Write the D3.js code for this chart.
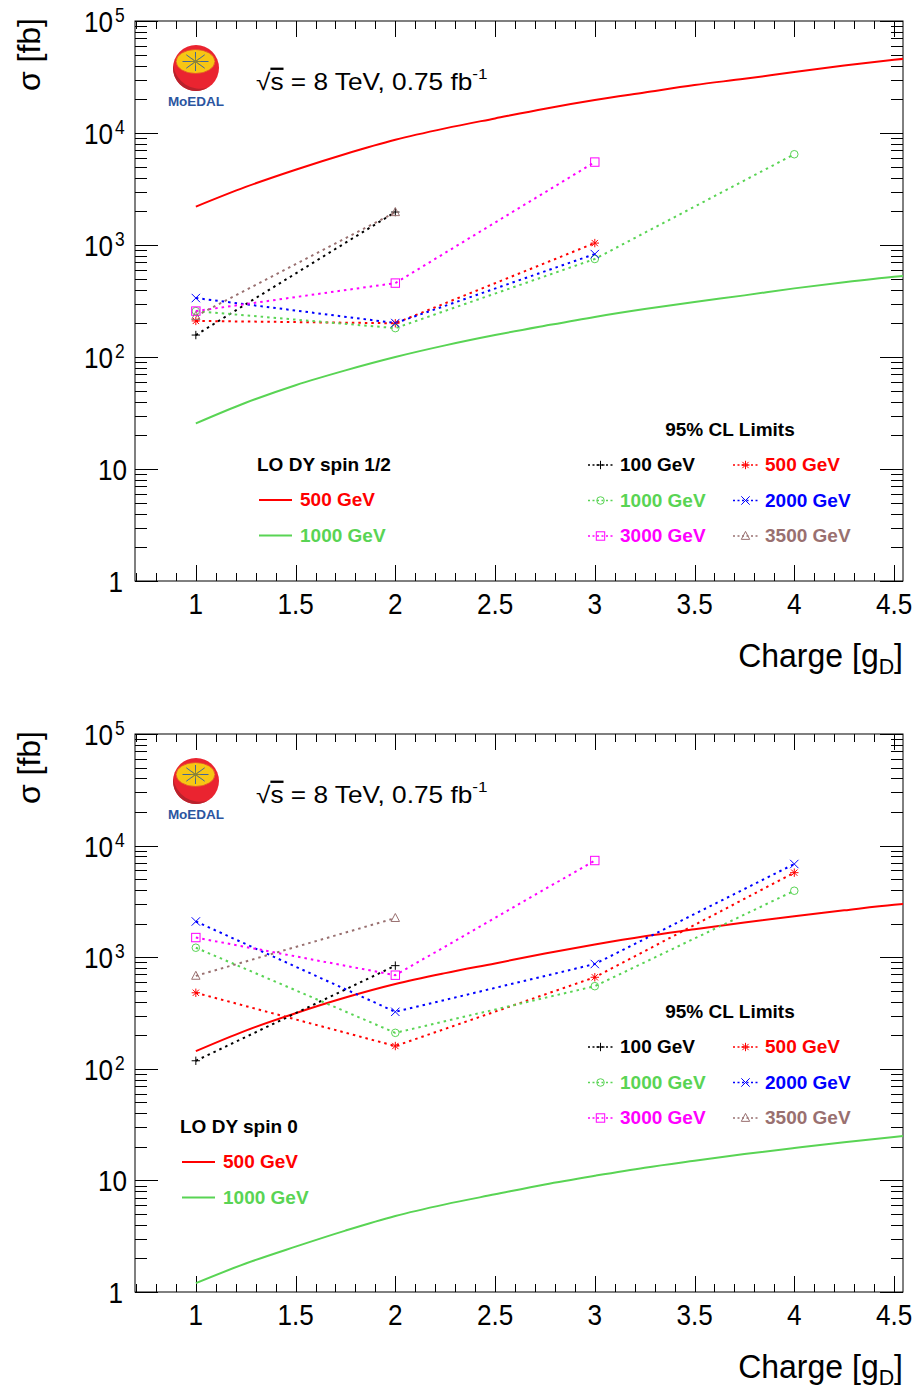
<!DOCTYPE html>
<html><head><meta charset="utf-8">
<script src="https://cdn.jsdelivr.net/npm/d3@7"></script>
<style>body{margin:0;background:#fff}</style>
</head><body><svg id="c" width="922" height="1396" xmlns="http://www.w3.org/2000/svg"></svg>
<script>
// ---------------- DATA ----------------
const charges = [1, 2, 3, 4];
const theoryCharge = [1, 1.25, 1.5, 1.75, 2, 2.25, 2.5, 2.75, 3, 3.25, 3.5, 3.75, 4, 4.25, 4.5, 4.55];
// LO Drell-Yan cross sections [fb]
const dySpinHalf500  = [2200, 3300, 4700, 6500, 8700, 11000, 13500, 16500, 19700, 23000, 26800, 30500, 35000, 40000, 45000, 46000];
const dySpinHalf1000 = [25.5, 39, 56, 76, 100, 127, 157, 190, 228, 268, 310, 355, 410, 465, 520, 530];
const dySpinZero500  = [144, 220, 315, 435, 575, 720, 880, 1080, 1300, 1540, 1780, 2050, 2330, 2630, 2950, 3000];
const dySpinZero1000 = [1.2, 1.8, 2.55, 3.55, 4.8, 6.1, 7.5, 9.2, 11, 13, 15, 17.2, 19.5, 22, 24.5, 25];
// 95% CL limits [fb], indexed by charge 1..4 (null = not available)
const massLabels = ["100 GeV", "500 GeV", "1000 GeV", "2000 GeV", "3000 GeV", "3500 GeV"];
const limitsSpinHalf = [
  [157, 1970, null, null],
  [210, 200, 1040, null],
  [257, 181, 750, 6460],
  [336, 201, 830, null],
  [257, 457, 5500, null],
  [232, 1960, null, null]
];
const limitsSpinZero = [
  [118, 840, null, null],
  [480, 160, 661, 5720],
  [1216, 210, 550, 3940],
  [2090, 324, 869, 6840],
  [1500, 690, 7350, null],
  [680, 2240, null, null]
];
const xTickLabels = ["1", "1.5", "2", "2.5", "3", "3.5", "4", "4.5"];
const yDecades = [0, 1, 2, 3, 4, 5];
const theoryLabels = ["500 GeV", "1000 GeV"];

// ---------------- STYLE ----------------
const limitColors = ["#000000", "#ff0000", "#59d454", "#0000ff", "#ff00ff", "#997070"];
const limitMarkers = ["plus", "star", "circle", "cross", "square", "triangle"];
const theoryColors = ["#ff0000", "#59d454"];
const FONT = "'Liberation Sans', Arial, Helvetica, sans-serif";

const svg = d3.select("#c");

function label(g, x, y, anchor, sx, size, weight, fill) {
  return g.append("text")
    .attr("transform", `translate(${x},${y}) scale(${sx},1)`)
    .attr("text-anchor", anchor)
    .attr("font-family", FONT)
    .attr("font-size", size)
    .attr("font-weight", weight || "normal")
    .attr("fill", fill || "#000");
}

function marker(g, type, cx, cy, color) {
  const s = 4.2;
  const m = g.append("g").attr("transform", `translate(${cx},${cy})`)
    .attr("stroke", color).attr("stroke-width", 1).attr("fill", "none");
  const ln = (x1, y1, x2, y2) => m.append("line").attr("x1", x1).attr("y1", y1).attr("x2", x2).attr("y2", y2);
  if (type === "plus") { ln(-s, 0, s, 0); ln(0, -s, 0, s); }
  else if (type === "star") { ln(-s, 0, s, 0); ln(0, -s, 0, s); ln(-s*0.75, -s*0.75, s*0.75, s*0.75); ln(-s*0.75, s*0.75, s*0.75, -s*0.75); }
  else if (type === "circle") { m.append("circle").attr("r", s * 0.9); }
  else if (type === "cross") { ln(-s, -s, s, s); ln(-s, s, s, -s); }
  else if (type === "square") { m.append("rect").attr("x", -s).attr("y", -s).attr("width", 2*s).attr("height", 2*s); }
  else if (type === "triangle") { m.append("path").attr("d", `M0,${-s*1.1}L${s},${s*0.8}L${-s},${s*0.8}Z`); }
}

function drawLogo(g, cx, cy) {
  const lg = g.append("g").attr("transform", `translate(${cx},${cy})`);
  lg.append("circle").attr("r", 23).attr("fill", "#ea2430");
  lg.append("path").attr("d", "M-22.8,-3 A23,23 0 0,0 12,19.6 A27,27 0 0,1 -22.8,-3Z").attr("fill", "#b8222c");
  lg.append("ellipse").attr("cx", -0.5).attr("cy", -6.5).attr("rx", 19.5).attr("ry", 12).attr("fill", "#f7c614").attr("stroke", "#e04a2a").attr("stroke-width", 0.8);
  const sp = lg.append("g").attr("transform", "translate(-0.5,-6.5)").attr("stroke", "#2d5aa8").attr("stroke-width", 0.9);
  for (let k = 0; k < 8; k++) {
    const a = k * Math.PI / 4;
    const rx = 13 * Math.cos(a), ry = 9.5 * Math.sin(a);
    sp.append("line").attr("x1", 0).attr("y1", 0).attr("x2", rx).attr("y2", ry);
  }
  lg.append("g").attr("transform", "translate(-0.5,-6.5)").attr("stroke", "#9a8a20").attr("stroke-width", 0.8)
    .selectAll("line").data([0, 1, 2, 3]).join("line")
    .attr("x1", d => -5 * Math.cos(d * Math.PI / 4)).attr("y1", d => -4 * Math.sin(d * Math.PI / 4))
    .attr("x2", d => 5 * Math.cos(d * Math.PI / 4)).attr("y2", d => 4 * Math.sin(d * Math.PI / 4));
  label(lg, 0, 38, "middle", 1, 13.5, "bold", "#2b55a0").text("MoEDAL");
}

function drawPanel(p) {
  const g = svg.append("g");
  const x = d3.scaleLinear().domain([0.695, 4.545]).range([p.x0, p.x1]);
  const y = d3.scaleLog().domain([1, 1e5]).range([p.y1, p.y0]);
  const clipId = "clip" + p.id;
  svg.append("clipPath").attr("id", clipId).append("rect")
    .attr("x", p.x0).attr("y", p.y0).attr("width", p.x1 - p.x0).attr("height", p.y1 - p.y0);

  // frame
  g.append("rect").attr("x", p.x0).attr("y", p.y0).attr("width", p.x1 - p.x0).attr("height", p.y1 - p.y0)
    .attr("fill", "none").attr("stroke", "#000").attr("stroke-width", 1);

  // x ticks (bottom & top)
  const xMinor = d3.range(7, 46).map(v => v / 10);
  const ticksG = g.append("g").attr("stroke", "#000").attr("stroke-width", 1);
  xMinor.forEach(v => {
    const isMajor = Math.abs(v * 2 - Math.round(v * 2)) < 1e-6;
    const len = isMajor ? 16 : 8;
    const xx = Math.round(x(v)) + 0.5;
    ticksG.append("line").attr("x1", xx).attr("x2", xx).attr("y1", p.y1).attr("y2", p.y1 - len);
    ticksG.append("line").attr("x1", xx).attr("x2", xx).attr("y1", p.y0).attr("y2", p.y0 + len);
  });
  // y ticks (left & right)
  yDecades.forEach(d => {
    for (let k = 1; k <= 9; k++) {
      const v = k * Math.pow(10, d);
      if (v > 1e5) break;
      const len = k === 1 ? 23 : 12;
      const yy = Math.round(y(v)) + 0.5;
      ticksG.append("line").attr("x1", p.x0).attr("x2", p.x0 + len).attr("y1", yy).attr("y2", yy);
      ticksG.append("line").attr("x1", p.x1).attr("x2", p.x1 - len).attr("y1", yy).attr("y2", yy);
    }
  });

  // x tick labels
  xTickLabels.forEach(t => {
    label(g, x(+t), p.y1 + 33, "middle", 0.87, 30).text(t);
  });
  // y tick labels
  yDecades.forEach(d => {
    const yy = y(Math.pow(10, d)) + 11;
    if (d === 0) label(g, 123, yy, "end", 0.87, 30).text("1");
    else if (d === 1) label(g, 127, yy, "end", 0.87, 30).text("10");
    else {
      label(g, 113, yy, "end", 0.87, 30).text("10");
      label(g, 115, yy - 10, "start", 0.87, 20).text(String(d));
    }
  });

  // axis titles
  const xt = label(g, p.x1, p.y1 + 86, "end", 0.97, 33);
  xt.append("tspan").text("Charge [g");
  xt.append("tspan").attr("font-size", 22).attr("dy", 7).text("D");
  xt.append("tspan").attr("dy", -7).text("]");
  g.append("text").attr("transform", `translate(40,${p.y0 - 3}) rotate(-90) scale(1.0,1)`)
    .attr("text-anchor", "end").attr("font-family", FONT).attr("font-size", 32).text("σ [fb]");

  // theory curves
  const lineGen = d3.line().x(d => x(d[0])).y(d => y(d[1]));
  const smoothGen = d3.line().curve(d3.curveMonotoneX).x(d => x(d[0])).y(d => y(d[1]));
  p.theory.forEach((vals, i) => {
    g.append("path").attr("clip-path", `url(#${clipId})`)
      .attr("d", smoothGen(theoryCharge.map((c, j) => [c, vals[j]])))
      .attr("fill", "none").attr("stroke", theoryColors[i]).attr("stroke-width", 2);
  });

  // limit curves
  p.limits.forEach((vals, i) => {
    const pts = charges.map((c, j) => [c, vals[j]]).filter(d => d[1] != null);
    g.append("path").attr("clip-path", `url(#${clipId})`)
      .attr("d", lineGen(pts)).attr("fill", "none").attr("stroke", limitColors[i])
      .attr("stroke-width", 2).attr("stroke-dasharray", "2.5,4");
  });
  p.limits.forEach((vals, i) => {
    charges.forEach((c, j) => {
      if (vals[j] != null) marker(g, limitMarkers[i], x(c), y(vals[j]), limitColors[i]);
    });
  });

  // logo & energy text
  drawLogo(g, 196, p.y0 + 47);
  const et = label(g, 256, p.y0 + 69, "start", 1.14, 23);
  et.append("tspan").text("√");
  et.append("tspan").attr("text-decoration", "overline").text("s");
  et.append("tspan").text(" = 8 TeV, 0.75 fb");
  et.append("tspan").attr("font-size", 15).attr("dy", -11).text("-1");

  // limits legend
  const lt = p.limLeg;
  label(g, 730, lt, "middle", 1, 19, "bold").text("95% CL Limits");
  massLabels.forEach((m, i) => {
    const col = i % 2, row = Math.floor(i / 2);
    const ly = lt + 35 + row * 35.5;
    const lx = col === 0 ? 588 : 733;
    g.append("line").attr("x1", lx).attr("x2", lx + 25).attr("y1", ly - 6).attr("y2", ly - 6)
      .attr("stroke", limitColors[i]).attr("stroke-width", 1.3).attr("stroke-dasharray", "2,2.5");
    marker(g, limitMarkers[i], lx + 12.5, ly - 6, limitColors[i]);
    label(g, lx + 32, ly, "start", 1, 19, "bold", limitColors[i]).text(m);
  });

  // theory legend
  label(g, p.thX, p.thY, "start", 1, 19, "bold").text(p.thTitle);
  theoryLabels.forEach((m, i) => {
    const ly = p.thY + 35 + i * 35.5;
    g.append("line").attr("x1", p.thX + 2).attr("x2", p.thX + 35).attr("y1", ly - 6).attr("y2", ly - 6)
      .attr("stroke", theoryColors[i]).attr("stroke-width", 2);
    label(g, p.thX + 43, ly, "start", 1, 19, "bold", theoryColors[i]).text(m);
  });
}

drawPanel({ id: 1, x0: 135, x1: 903, y0: 21, y1: 581,
  theory: [dySpinHalf500, dySpinHalf1000], limits: limitsSpinHalf,
  limLeg: 436, thX: 257, thY: 471, thTitle: "LO DY spin 1/2" });
drawPanel({ id: 2, x0: 135, x1: 903, y0: 734, y1: 1292,
  theory: [dySpinZero500, dySpinZero1000], limits: limitsSpinZero,
  limLeg: 1018, thX: 180, thY: 1133, thTitle: "LO DY spin 0" });
</script>
</body></html>
